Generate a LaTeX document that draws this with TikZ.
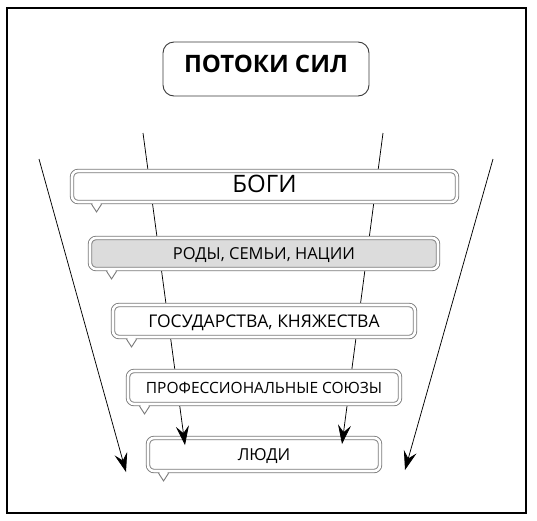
\documentclass[tikz,border=0pt]{standalone}
\usepackage{fontspec}
\setmainfont{Open Sans}
\usetikzlibrary{arrows.meta,calc}
\definecolor{bordergray}{HTML}{7A7A7A}
\definecolor{titlegray}{HTML}{3A3A3A}
\definecolor{boxfill}{HTML}{DCDCDC}
\newcommand\bubtail[2]{%
  \fill[white] ($(#1.south west)+(#2-4.2,0.6)$) -- ($(#1.south west)+(#2,8.6)$) -- ($(#1.south west)+(#2+4.2,0.6)$) -- cycle;
  \draw[tailline] ($(#1.south west)+(#2-5,1.75)$) -- ($(#1.south west)+(#2,9.5)$) -- ($(#1.south west)+(#2+5,1.75)$);}
\begin{document}
\begin{tikzpicture}[x=1pt,y=-1pt,
  bubble/.style={draw=bordergray, double=white, double distance=2.6pt, line width=0.9pt,
    rounded corners=6pt, fill=white, inner sep=0pt, text height=0.72em+5pt, text depth=0pt,
    font=\fontsize{16.5}{19}\selectfont},
  titlebox/.style={draw=titlegray, line width=0.9pt, rounded corners=11pt, fill=white,
    minimum width=206pt, minimum height=54pt, inner sep=0pt, text height=0.72em, text depth=0pt,
    font=\bfseries\fontsize{24}{28}\selectfont},
  flow/.style={-{Stealth[length=19pt,width=13pt,inset=7pt]}, line width=0.75pt},
  tailline/.style={draw=bordergray, line width=0.9pt, line join=miter},
  frame/.style={line width=1.1pt}
]
\useasboundingbox (0,0) rectangle (537,520);
\draw[frame] (7,8) rectangle (526,513);

\node[titlebox] (title) at (266,69) {ПОТОКИ СИЛ};

\coordinate (s1) at (143,133);
\coordinate (e1) at (185,445);
\coordinate (s2) at (383,133);
\coordinate (e2) at (342,444);
\coordinate (s3) at (39,159);
\coordinate (e3) at (126,472);
\coordinate (s4) at (493,159);
\coordinate (e4) at (405,470);

\node[bubble, minimum width=232pt, minimum height=33pt] (ludi) at (264,454.5) {ЛЮДИ};
\bubtail{ludi}{16}

\draw[flow] (s1) -- (e1);
\draw[flow] (s2) -- (e2);
\draw[flow] (s3) -- (e3);
\draw[flow] (s4) -- (e4);

\node[bubble, minimum width=385pt, minimum height=31pt, font=\fontsize{24}{28}\selectfont] (bogi) at (264.5,186.5) {БОГИ};
\bubtail{bogi}{25}
\node[bubble, fill=boxfill, minimum width=348pt, minimum height=31pt] (rody) at (264,253.5) {РОДЫ, СЕМЬИ, НАЦИИ};
\bubtail{rody}{22}
\node[bubble, minimum width=302pt, minimum height=32pt, font=\fontsize{17.5}{20}\selectfont] (gos) at (264,321) {ГОСУДАРСТВА, КНЯЖЕСТВА};
\bubtail{gos}{19}
\node[bubble, minimum width=272pt, minimum height=33pt, font=\fontsize{15.5}{18}\selectfont] (prof) at (264,387.5) {ПРОФЕССИОНАЛЬНЫЕ СОЮЗЫ};
\bubtail{prof}{17}
\end{tikzpicture}
\end{document}
